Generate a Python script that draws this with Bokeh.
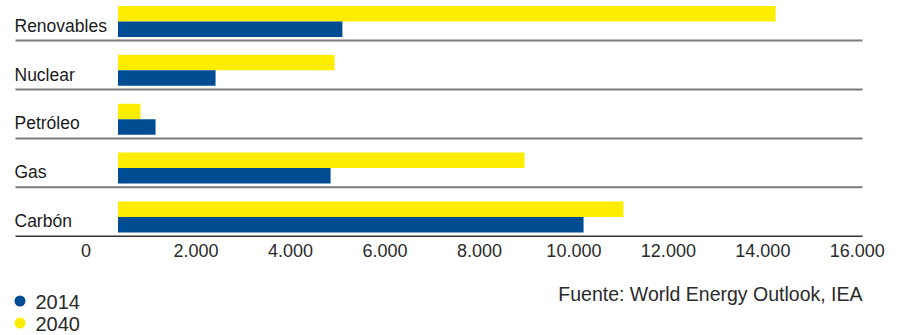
from bokeh.plotting import figure
from bokeh.models import Range1d, ColumnDataSource
from bokeh.core.properties import value
from bokeh.embed import file_html
from bokeh.resources import INLINE

# ---- data ----
categories = ["Renovables", "Nuclear", "Petróleo", "Gas", "Carbón"]
values_2014 = [4750, 2065, 795, 4500, 9855]
values_2040 = [13920, 4585, 475, 8605, 10700]
tick_values = [0, 2000, 4000, 6000, 8000, 10000, 12000, 14000, 16000]
tick_labels = ["0", "2.000", "4.000", "6.000", "8.000", "10.000", "12.000", "14.000", "16.000"]
series_names = ["2014", "2040"]
source_note = "Fuente: World Energy Outlook, IEA"

# ---- styles ----
C2014 = "#004C93"
C2040 = "#FFED00"
SANS = "'Liberation Sans', Arial, sans-serif"

W, H = 900, 335
PX, PY = 0, 0   # page position of the canvas' top-left corner
# layout in page pixels
X0 = 117.5      # page x of value 0
S = 0.04724     # px per unit
Y0 = 235.7      # page y of the baseline line
R = 48.9        # row height in px
TA = 6.5        # text baseline correction (px)


def dx(px):
    return (px - X0) / S


def dy(py):
    return (Y0 - py) / R


def ty(py):
    return dy(py - TA)


p = figure(width=W, height=H, output_backend="svg", toolbar_location=None,
           x_range=Range1d(dx(PX), dx(PX + W)), y_range=Range1d(dy(PY + H), dy(PY)),
           x_axis_location=None, y_axis_location=None, min_border=0)
p.grid.visible = False
p.outline_line_color = None
p.background_fill_color = "white"

n = len(categories)
centers = [n - 1 - i + 0.5 for i in range(n)]

src = ColumnDataSource(dict(
    cat=categories,
    y2040=[c + 2.5 / R for c in centers],
    y2014=[c - 13.0 / R for c in centers],
    ylab=[c - (16.0 - TA) / R for c in centers],
    v2014=values_2014,
    v2040=values_2040,
))

bar_h = 15.5 / R
p.hbar(y="y2040", left=0, right="v2040", height=bar_h, source=src,
       fill_color=C2040, line_color=None)
p.hbar(y="y2014", left=0, right="v2014", height=bar_h, source=src,
       fill_color=C2014, line_color=None)

# separator lines
xl, xr = dx(15), dx(862)
seps = [float(k) for k in range(1, n)]
p.segment(x0=[xl] * len(seps), x1=[xr] * len(seps), y0=seps, y1=seps,
          line_color="#7a7a7a", line_width=2)
p.segment(x0=[xl], x1=[xr], y0=[0.0], y1=[0.0], line_color="#333333", line_width=1.5)

# category labels
p.text(x=dx(14), y="ylab", text="cat", source=src, text_font=value(SANS),
       text_font_size="17.5px", text_color="#1a1a1a", text_align="left",
       text_baseline="alphabetic")

# tick labels
tsrc = ColumnDataSource(dict(
    x=tick_values, t=tick_labels,
    off=[-32.0 if v == 0 else -16.5 for v in tick_values],
))
p.text(x="x", y=ty(256), text="t", x_offset="off", source=tsrc,
       text_font=value(SANS), text_font_size="18px", text_color="#2a2a2a",
       text_align="center", text_baseline="alphabetic")

# source note
p.text(x=[dx(862)], y=[ty(299.5)], text=[source_note], text_font=value(SANS),
       text_font_size="19.5px", text_color="#2a2a2a", text_align="right",
       text_baseline="alphabetic")

# legend
leg_y_dot = [dy(300.5), dy(322.5)]
leg_y_txt = [ty(308.3), ty(330.0)]
p.scatter(x=[dx(19.5)] * 2, y=leg_y_dot, size=11, marker="circle",
          fill_color=[C2014, C2040], line_color=None)
p.text(x=[dx(35)] * 2, y=leg_y_txt, text=series_names, text_font=value(SANS),
       text_font_size="20px", text_color="#2a2a2a", text_align="left",
       text_baseline="alphabetic")

open("out.html", "w").write(file_html(p, INLINE))
